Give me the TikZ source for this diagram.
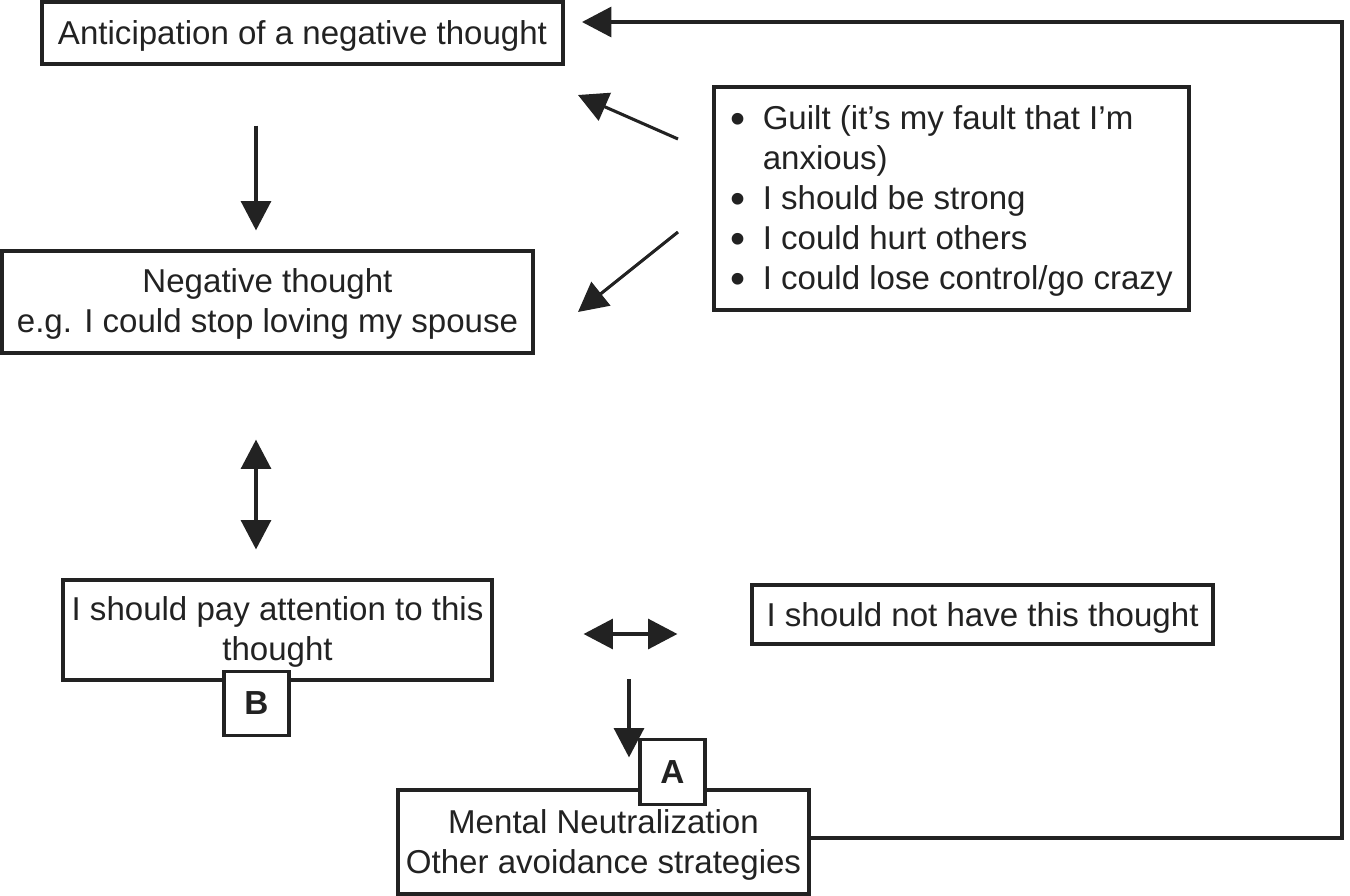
\documentclass[tikz,border=0pt]{standalone}
\usepackage{fontspec}
\setmainfont{Liberation Sans}
\usetikzlibrary{arrows.meta}
\definecolor{ink}{HTML}{222222}
\newcommand{\bigbul}{\raisebox{-3pt}{\scalebox{1.3}{\textbullet}}}
\begin{document}
\begin{tikzpicture}[x=0.75pt,y=-0.75pt,
  box/.style={draw=ink, line width=2.4pt, inner sep=0pt, align=center, text=ink,
    font=\fontsize{24.8}{30}\selectfont},
  txtbox/.style={box, execute at begin node={\rule{0pt}{22.6pt}}},
  lab/.style={box, fill=white, font=\fontsize{25}{30}\selectfont\bfseries,
    minimum width=48.75pt, minimum height=48.5pt},
  arr/.style={draw=ink, line width=2.3pt, line join=miter,
    -{Triangle[length=22pt,width=22.5pt]}},
  darr/.style={draw=ink, line width=2.3pt,
    {Triangle[length=22pt,width=22.5pt]}-{Triangle[length=22pt,width=22.5pt]}}]
\useasboundingbox (0,0) rectangle (1350,896);

\node[txtbox, minimum width=390.75pt, minimum height=46.5pt] (ant) at (302.5,33)
  {Anticipation of a negative thought};
\node[box, minimum width=398.25pt, minimum height=76.5pt] (neg) at (267.5,302)
  {\rule{0pt}{20.4pt}Negative thought\\e.g. I could stop loving my spouse};
\node[box, minimum width=356.25pt, minimum height=167.25pt] (guilt) at (951.5,198.5)
  {\begin{tabular}{@{}l@{\hspace{13pt}}l@{}}
   \rule{0pt}{25.5pt}\bigbul & Guilt (it’s my fault that I’m\\
               & anxious)\\
   \bigbul & I should be strong\\
   \bigbul & I could hurt others\\
   \bigbul & I could lose control/go crazy
   \end{tabular}};
\node[box, minimum width=321.75pt, minimum height=75pt] (attn) at (277.5,630)
  {\rule{0pt}{21.1pt}I should pay attention to this\\thought};
\node[lab] (B) at (256.5,703.5) {B};
\node[txtbox, minimum width=345.75pt, minimum height=44.25pt] (not) at (982.5,614.5)
  {I should not have this thought};
\node[box, minimum width=308.25pt, minimum height=78pt] (mental) at (603.5,842)
  {\rule{0pt}{22.6pt}Mental Neutralization\\Other avoidance strategies};
\node[lab] (A) at (672.5,772) {A};

\coordinate (br) at (1342,838);
\coordinate (tr) at (1342,22);
\coordinate (tip0) at (582,22);
\coordinate (xa) at (256,0);
\coordinate (ya) at (0,634);
\coordinate (g1) at (678,139);
\coordinate (g2) at (578,95);
\coordinate (g3) at (678,232);
\coordinate (g4) at (578,312);
\coordinate (d1) at (629,679);

\draw[arr] (mental.east |- br) -- (br) -- (tr) -- (tip0);
\draw[arr, shorten <=45pt, shorten >=14.25pt] (ant.south -| xa) -- (neg.north -| xa);
\draw[arr] (g1) -- (g2);
\draw[arr] (g3) -- (g4);
\draw[darr, shorten <=63.75pt, shorten >=21.75pt] (neg.south -| xa) -- (attn.north -| xa);
\draw[darr, shorten <=67.5pt, shorten >=54.75pt] (attn.east |- ya) -- (not.west |- ya);
\draw[arr, shorten >=23.25pt] (d1) -- (mental.north -| d1);
\end{tikzpicture}
\end{document}
